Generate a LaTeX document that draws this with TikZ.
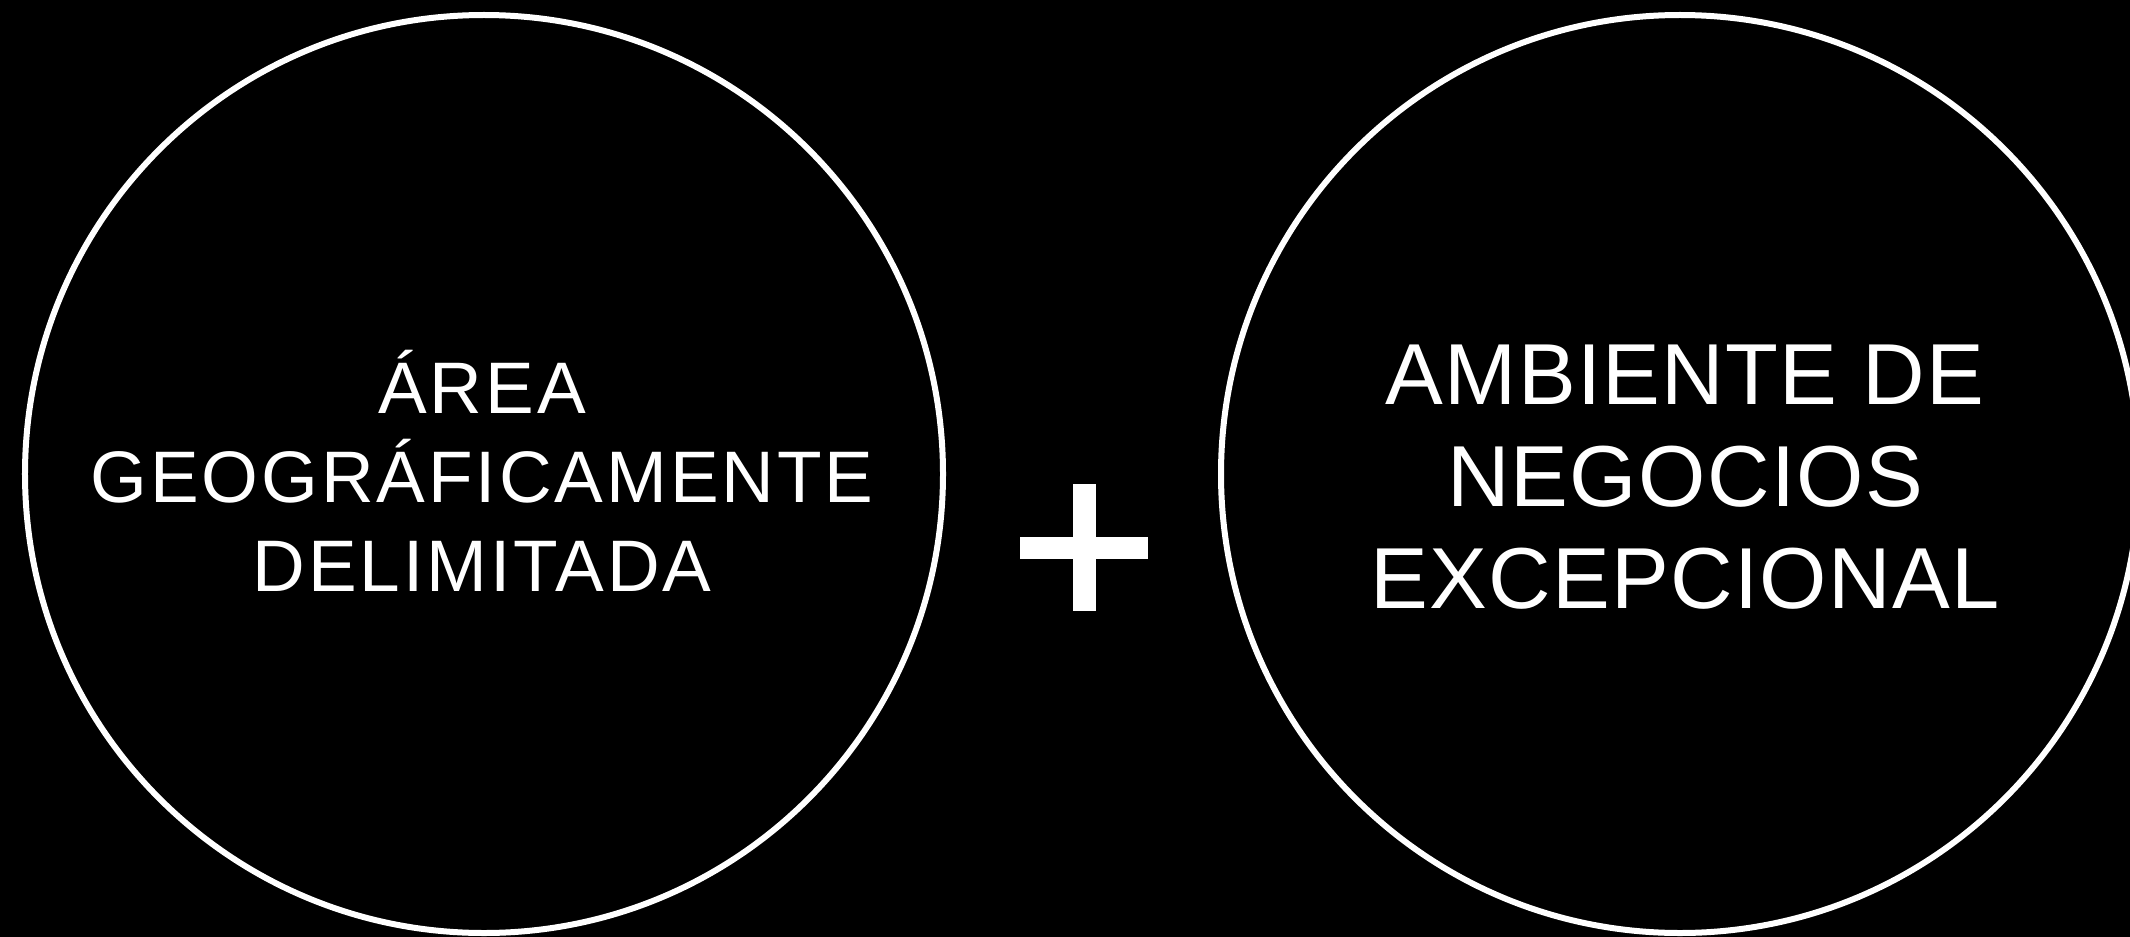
\documentclass[tikz,border=0pt]{standalone}
\usepackage{fontspec}
\setmainfont{Liberation Sans}
\newfontfamily\lefttxt[LetterSpace=4]{Liberation Sans}
\newfontfamily\righttxt[LetterSpace=1.5]{Liberation Sans}
\begin{document}
\begin{tikzpicture}[x=1bp,y=-1bp,
  ring/.style={circle, draw=white, line width=6bp, minimum size=918bp, inner sep=0pt},
  txtl/.style={text=white, align=center, inner sep=0pt},
]
\fill[black] (0,0) rectangle (2130,937);
\useasboundingbox (0,0) rectangle (2130,937);
\node[ring] (c1) at (484,474) {};
\node[ring] (c2) at (1680,474) {};
\node[txtl, font=\lefttxt\fontsize{73bp}{89bp}\selectfont] (t1) at (482,471) {ÁREA\\GEOGRÁFICAMENTE\\DELIMITADA};
\node[txtl, font=\righttxt\fontsize{86.6bp}{102bp}\selectfont] (t2) at (1685,477) {AMBIENTE DE\\NEGOCIOS\\EXCEPCIONAL};
\fill[white] (1073,484) rectangle (1096,611);
\fill[white] (1020,537) rectangle (1148,559);
\end{tikzpicture}
\end{document}
